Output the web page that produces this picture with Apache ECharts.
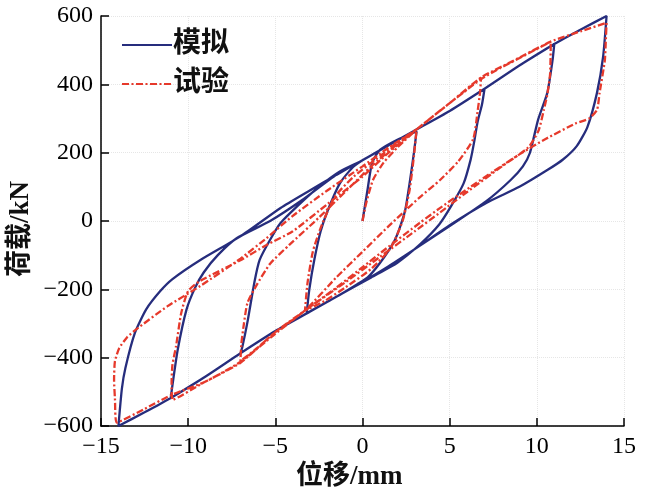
<!DOCTYPE html>
<html>
<head>
<meta charset="utf-8">
<script src="https://cdn.jsdelivr.net/npm/echarts@6/dist/echarts.min.js"></script>
<style>
html,body{margin:0;padding:0;background:#fff;}
#chart{width:645px;height:500px;}
</style>
</head>
<body>
<div id="chart"></div>
<script>
// ---- axis ticks ----
var xTicks = [-15, -10, -5, 0, 5, 10, 15];
var yTicks = [-600, -400, -200, 0, 200, 400, 600];
var seriesNames = ['模拟', '试验'];
var xAxisTitle = '位移/mm';
var yAxisTitle = '荷载/kN';

// ---- simulated (模拟) branches, [displacement mm, load kN] ----
var simInit = [[0,0],[0.3,95],[0.55,170],[1,208],[2,238],[3.1,262]];
var simUnload3 = [[3.1,262],[2.95,200],[2.7,110],[2.45,32],[2.1,-25],[1.77,-64],[1.0,-123],[0.3,-165],[-0.3,-185],[-1.5,-222],[-3.2,-270]];
var simReload3 = [[-3.2,-270],[-3.05,-200],[-2.75,-110],[-2.4,-30],[-2.0,30],[-1.3,110],[-0.54,158],[0,178],[1.5,222],[3,265],[5,322],[7,387]];
var simUnload7 = [[7,387],[6.85,340],[6.6,290],[6.4,230],[6.2,179],[5.8,110],[5.1,45],[4.4,-10],[3.3,-68],[2,-122],[0.5,-165],[-1.5,-222],[-3.2,-270],[-5,-322],[-7,-387]];
var simReload7 = [[-7,-387],[-6.9,-370],[-6.6,-296],[-6.2,-179],[-5.9,-114],[-5.3,-55],[-4.7,-6],[-3.6,50],[-2.5,100],[-1.3,145],[0,178],[3,265],[5,322],[7,387],[9,455],[11,518]];
var simUnload11 = [[11,518],[10.9,470],[10.6,375],[10.07,296],[9.6,199],[9.2,160],[8.5,120],[7.1,58],[5,-15],[3.3,-72],[1.5,-132],[0,-178],[-3,-265],[-5,-322],[-7,-387],[-9,-455],[-11,-518]];
var simReload11 = [[-11,-518],[-10.9,-480],[-10.6,-377],[-10.1,-260],[-9.6,-195],[-9.1,-150],[-8.3,-100],[-7.2,-50],[-5.3,0],[-3.5,60],[-1.5,135],[0,178],[3,265],[5,322],[7,387],[9,455],[11,518],[12.5,560],[14,600]];
var simUnload14 = [[14,600],[13.8,480],[13.45,375],[12.9,275],[12.3,220],[11.5,180],[10.6,149],[9,100],[7.1,53],[5,-12],[3.3,-72],[1.5,-132],[0,-178],[-3,-265],[-5,-322],[-7,-387],[-9,-455],[-11,-518],[-12.5,-560],[-14,-600]];
var simReload14 = [[-14,-600],[-13.8,-490],[-13.6,-430],[-13.05,-327],[-12.4,-258],[-11.6,-205],[-10.9,-170],[-9.3,-114],[-7,-45],[-4.7,38],[-3,90],[-1.5,135],[0,178]];

// ---- test (试验) branches ----
var expInit = [[0,0],[0.2,50],[0.6,120],[1.2,170],[2,215],[3.1,268]];
var expUnload3 = [[3.1,268],[2.95,190],[2.7,90],[2.3,0],[1.6,-80],[0.5,-140],[-1,-195],[-2.2,-235],[-3.3,-262]];
var expReload3 = [[-3.3,-262],[-3.15,-180],[-2.85,-90],[-2.4,-20],[-1.6,70],[-0.5,130],[1,190],[2,230],[3.1,268],[4,305],[5,345],[6,385],[6.8,420]];
var expUnload7 = [[6.8,420],[6.75,380],[6.6,320],[6.35,240],[5.5,175],[4.45,120],[3.3,70],[1.5,-15],[0,-90],[-1.5,-165],[-3.3,-262],[-5,-325],[-6,-370],[-7,-410]];
var expReload7 = [[-7,-410],[-6.95,-360],[-6.8,-300],[-6.6,-240],[-6.1,-190],[-5.3,-125],[-4.2,-70],[-2.5,10],[-1,85],[0.5,160],[2,225],[3.1,268],[5,345],[6.8,415],[8,450],[9.5,490],[10.8,525]];
var expUnload11 = [[10.8,525],[10.76,430],[10.6,370],[10.4,325],[10.1,265],[9.5,215],[8,160],[6,85],[4.45,25],[3,-30],[1,-105],[-1,-180],[-3.3,-262],[-5,-325],[-7,-415],[-9,-470],[-10.9,-524]];
var expReload11 = [[-10.9,-524],[-10.95,-470],[-10.9,-420],[-10.7,-368],[-10.4,-270],[-10,-205],[-9.3,-175],[-7,-115],[-5.5,-70],[-4,-30],[-2,50],[0,130],[1.5,200],[3.1,268],[5,345],[6.8,420],[8.5,465],[10.8,525],[12.5,555],[14,580]];
var expUnload14 = [[14,580],[13.95,520],[13.9,470],[13.6,375],[13.45,325],[13,300],[12.2,285],[10.5,240],[9,195],[7.5,145],[6.2,100],[4.5,40],[3.3,-5],[1.5,-75],[0,-135],[-1.5,-195],[-3.3,-262],[-5,-330],[-7,-412],[-9,-470],[-11,-510],[-12.5,-550],[-14.1,-590]];
var expReload14 = [[-14.1,-590],[-14.2,-520],[-14.25,-465],[-14.2,-410],[-13.95,-372],[-13.5,-340],[-13,-318],[-11.2,-250],[-9.3,-190],[-7,-110],[-5.5,-50],[-4,15],[-2,90],[0,160],[1.5,215],[3.1,268]];

var simData = [].concat(simInit, simUnload3, simReload3, simUnload7, simReload7, simUnload11, simReload11, simUnload14, simReload14);
var expData = [].concat(expInit, expUnload3, expReload3, expUnload7, expReload7, expUnload11, expReload11, expUnload14, expReload14);

var blue = '#262d7d';
var red = '#e6392b';
var serif = '"Liberation Serif","Times New Roman",serif';
var cjk = '"Liberation Serif","Noto Sans CJK SC",serif';

function fmt(v){ return String(v).replace('-', '\u2212'); }

var chart = echarts.init(document.getElementById('chart'), null, {renderer:'canvas'});
chart.setOption({
  animation: false,
  backgroundColor: '#fff',
  grid: {left: 101, right: 21, top: 16, bottom: 74, containLabel: false},
  legend: {
    orient: 'vertical', left: 116, top: 26, itemWidth: 50, itemHeight: 14, itemGap: 11,
    itemStyle: {opacity: 0},
    textStyle: {fontFamily: cjk, fontSize: 28, fontWeight: 'bold', color: '#111', padding:[0,0,0,-4]},
    data: [{name: seriesNames[0]}, {name: seriesNames[1]}]
  },
  xAxis: {
    type: 'value', min: xTicks[0], max: xTicks[xTicks.length-1], interval: 5,
    axisLine: {onZero: false, lineStyle: {color: '#000', width: 1.5}},
    axisTick: {inside: true, length: 8, lineStyle: {color: '#000', width: 1.5}},
    axisLabel: {color: '#000', fontFamily: serif, fontSize: 24, margin: 9, formatter: fmt},
    splitLine: {show: true, lineStyle: {color: '#e6e6e6', type: 'dotted', width: 1}}
  },
  yAxis: {
    type: 'value', min: yTicks[0], max: yTicks[yTicks.length-1], interval: 200,
    axisLine: {onZero: false, lineStyle: {color: '#000', width: 1.5}},
    axisTick: {inside: true, length: 8, lineStyle: {color: '#000', width: 1.5}},
    axisLabel: {color: '#000', fontFamily: serif, fontSize: 24, margin: 8, formatter: fmt},
    splitLine: {show: true, lineStyle: {color: '#e6e6e6', type: 'dotted', width: 1}}
  },
  graphic: [
    {type: 'text', left: 296, top: 464, style: {text: xAxisTitle, font: 'bold 27px ' + cjk, fill: '#111'}},
    {type: 'text', x: 8, y: 277, rotation: Math.PI/2, style: {text: yAxisTitle, font: 'bold 27px ' + cjk, fill: '#111', textAlign: 'left', textVerticalAlign: 'top'}}
  ],
  series: [
    {name: seriesNames[0], type: 'line', data: simData, symbol: 'none', showSymbol: false, smooth: 0.2,
     lineStyle: {color: blue, width: 2.3}, itemStyle: {color: blue}, z: 2},
    {name: seriesNames[1], type: 'line', data: expData, symbol: 'none', showSymbol: false, smooth: 0.2,
     lineStyle: {color: red, width: 2.3, type: [7, 2.5, 2, 2.5]}, itemStyle: {color: red}, z: 3}
  ]
});
</script>
</body>
</html>
